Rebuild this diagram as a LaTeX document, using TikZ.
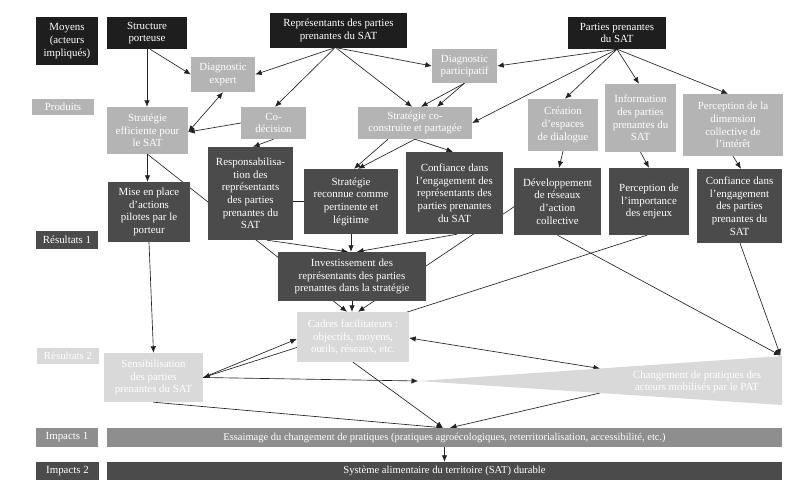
\documentclass[tikz,border=0pt]{standalone}
\usepackage{fontspec}
\setmainfont{Liberation Serif}
\usetikzlibrary{arrows.meta,calc}
\definecolor{cblk}{HTML}{1E1E1E}
\definecolor{cprod}{HTML}{B4B4B4}
\definecolor{cres}{HTML}{4B4B4B}
\definecolor{cresb}{HTML}{D9D9D9}
\definecolor{cimp}{HTML}{8E8E8E}
\definecolor{cline}{HTML}{222222}
\pgfdeclarelayer{bg}
\pgfsetlayers{bg,main}
\tikzset{
  bx/.style={rectangle, inner sep=0pt, align=center, text=white, font=\fontsize{10.9}{12.7}\selectfont},
  blk/.style={bx, fill=cblk},
  prod/.style={bx, fill=cprod},
  resa/.style={bx, fill=cres},
  resb/.style={bx, fill=cresb},
  impa/.style={bx, fill=cimp},
  impb/.style={bx, fill=cres},
  sz/.style 2 args={minimum width=#1, minimum height=#2},
  con/.style={draw=cline, line width=0.65pt},
  arr/.style={con, -{Latex[length=6.5pt,width=5.5pt]}},
  darr/.style={con, {Latex[length=6.5pt,width=5.5pt]}-{Latex[length=6.5pt,width=5.5pt]}},
}
\begin{document}
\begin{tikzpicture}[x=1pt,y=-1pt]
\useasboundingbox (0,0) rectangle (800,489);
% row labels
\node[blk, sz={62}{48}] (lmoy) at (67,41) {Moyens\\(acteurs\\impliqués)};
\node[prod, sz={62}{16}] (lprod) at (63,107) {Produits};
\node[resa, sz={62}{18}] (lres1) at (67,240) {Résultats 1};
\node[resb, sz={62}{16}] (lres2) at (68,356) {Résultats 2};
\node[impa, sz={62}{19}] (limp1) at (67,437.5) {Impacts 1};
\node[impb, sz={63}{18}] (limp2) at (67.5,471) {Impacts 2};
% moyens
\node[blk, sz={80}{32}] (sp) at (147,33) {Structure\\porteuse};
\node[blk, sz={137}{35}] (rep) at (338.5,30.5) {Représentants des parties\\prenantes du SAT};
\node[blk, sz={98}{32}] (pp) at (617,33) {Parties prenantes\\du SAT};
% produits
\node[prod, sz={64}{35}] (de) at (223,74.5) {Diagnostic\\expert};
\node[prod, sz={65}{34}] (dp) at (464.5,66) {Diagnostic\\participatif};
\node[prod, sz={81}{47}] (se) at (147.5,130.5) {Stratégie\\efficiente pour\\le SAT};
\node[prod, sz={65}{32}] (cod) at (273.5,123) {Co-\\décision};
\node[prod, sz={114}{32}] (scc) at (415,123) {Stratégie co-\\construite et partagée};
\node[prod, sz={70}{52}] (cre) at (563,125) {Création\\d’espaces\\de dialogue};
\node[prod, sz={71}{68}] (inf) at (640.5,118) {Information\\des parties\\prenantes du\\SAT};
\node[prod, sz={100}{62}] (pdc) at (733,125) {Perception de la\\dimension\\collective de\\l’intérêt};
% resultats 1
\node[resa, sz={82}{60}] (mep) at (149,212) {Mise en place\\d’actions\\pilotes par le\\porteur};
\node[resa, sz={85}{93}] (resp) at (250.5,193.5) {Responsabilisa-\\tion des\\représentants\\des parties\\prenantes du\\SAT};
\node[resa, sz={94}{65}] (srp) at (351,201.5) {Stratégie\\reconnue comme\\pertinente et\\légitime};
\node[resa, sz={97}{82}] (cre1) at (454.5,193) {Confiance dans\\l’engagement des\\représentants des\\parties prenantes\\du SAT};
\node[resa, sz={87}{67}] (dev) at (557.5,201.5) {Développement\\de réseaux\\d’action\\collective};
\node[resa, sz={80}{67}] (pie) at (649,201.5) {Perception de\\l’importance\\des enjeux};
\node[resa, sz={85}{74}] (cpp) at (739.5,206) {Confiance dans\\l’engagement\\des parties\\prenantes du\\SAT};
\node[resa, sz={148}{49}] (inv) at (352,276.5) {Investissement des\\représentants des parties\\prenantes dans la stratégie};
% resultats 2
\node[resb, sz={112}{50}] (cad) at (353,337) {Cadres facilitateurs :\\objectifs, moyens,\\outils, réseaux, etc.};
\node[resb, sz={99}{49}] (sens) at (153.5,377.5) {Sensibilisation\\des parties\\prenantes du SAT};
\coordinate (chgtip) at (418,381);
\coordinate (chgtr) at (782,356);
\coordinate (chgbr) at (782,405);
\coordinate (chgtop) at ($(chgtip)!0.5!(chgtr)$);
\coordinate (chgbot) at ($(chgtip)!0.5!(chgbr)$);
\fill[cresb] (chgtip) -- (chgtr) -- (chgbr) -- cycle;
\node[bx] (chg) at (697,382) {Changement de pratiques des\\acteurs mobilisés par le PAT};
% impacts
\node[impa, sz={675}{19}, font=\fontsize{10.5}{12}\selectfont] (i1) at (444.5,437.5) {Essaimage du changement de pratiques (pratiques agroécologiques, reterritorialisation, accessibilité, etc.)};
\node[impb, sz={675}{18}, font=\fontsize{10.6}{12}\selectfont] (i2) at (444.5,471) {Système alimentaire du territoire (SAT) durable};
% connectors
\begin{pgfonlayer}{bg}
\fill[white] (0,0) rectangle (800,489);
\draw[arr] ([xshift=3pt]sp.south) -- (de.west);
\draw[arr] (sp.south) -- (sp.south |- se.north);
\draw[arr] ([xshift=-5pt]rep.south) -- (de.east);
\draw[arr] ([xshift=-4pt]rep.south) -- ([xshift=1.5pt]cod.north);
\draw[arr] ([xshift=-2pt]rep.south) -- ([xshift=-3pt]scc.north);
\draw[arr] (rep.south) -- (dp.west);
\draw[arr] (dp.south) -- ([xshift=6pt]scc.north);
\draw[arr] (dp.south) -- ([xshift=22pt]scc.north);
\draw[arr] (pp.south) -- (dp.east);
\draw[arr] (pp.south) -- (scc.east);
\draw[arr] (pp.south) -- ([xshift=2pt]cre.north);
\draw[arr] (pp.south) -- ([xshift=-1.5pt]inf.north);
\draw[arr] (pp.south) -- ([xshift=-5pt]pdc.north);
\draw[darr] ([yshift=-1.5pt]se.east) -- (de.south);
\draw[arr] (cod.west) -- ([yshift=-1.5pt]se.east);
\draw[arr] (cod.south) -- ([xshift=2.5pt]resp.north);
\draw[arr] ([xshift=-27pt]scc.south) -- ([xshift=3pt]srp.north);
\draw[arr] (scc.south) -- ([xshift=7pt]srp.north);
\draw[arr] (scc.south) -- ([xshift=-1.5pt]cre1.north);
\draw[arr] (se.south) -- (se.south |- mep.north);
\draw[arr] (se.south) -- ([xshift=-6pt]cad.north);
\draw[con] ([yshift=-7.5pt]resp.center) -- ([yshift=-7.5pt]resp.center -| srp.center);
\draw[arr] ([xshift=16.5pt]resp.south) -- ([xshift=-4pt]inv.north);
\draw[arr] (srp.south) -- (srp.south |- inv.north);
\draw[arr] ([xshift=2.5pt]cre1.south) -- ([xshift=5pt]inv.north);
\draw[arr] ([yshift=24pt]dev.center) -- ([xshift=5pt]cad.north);
\draw[arr] (inv.south) -- (inv.south |- cad.north);
\draw[arr] (cre.south) -- ([xshift=1.5pt]dev.north);
\draw[arr] (inf.south) -- (pie.north);
\draw[arr] (pdc.south) -- ([xshift=1.5pt]cpp.north);
\draw[arr] (mep.south) -- (sens.north);
\draw[arr] ([xshift=-2pt]pie.south) -- (sens.east);
\draw[arr] (sens.east) -- ([yshift=-2pt]cad.west);
\draw[arr] (sens.east) -- (chgtip);
\draw[darr] ([yshift=-1pt]cad.east) -- (chgtop);
\draw[arr] (cad.south) -- ([xshift=-1.5pt]i1.north);
\draw[arr] (sens.south) -- ([xshift=-1.5pt]i1.north);
\draw[arr] (chgbot) -- ([xshift=5.5pt]i1.north);
\draw[arr] (i1.south) -- (i2.north);
\draw[arr] (dev.south) -- ([xshift=-1.5pt,yshift=0.5pt]chgtr);
\draw[arr] ([xshift=0.5pt]cpp.south) -- ([xshift=-1.5pt,yshift=0.5pt]chgtr);
\end{pgfonlayer}
\end{tikzpicture}
\end{document}
